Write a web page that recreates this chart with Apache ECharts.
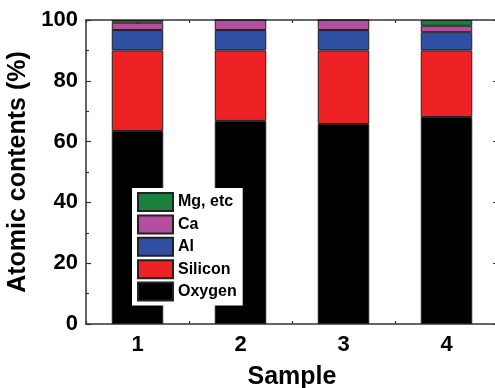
<!DOCTYPE html>
<html>
<head>
<meta charset="utf-8">
<script src="https://cdn.jsdelivr.net/npm/echarts@6/dist/echarts.min.js"></script>
<style>
  html, body { margin: 0; padding: 0; background: #fff; }
  #chart { width: 495px; height: 388px; }
</style>
</head>
<body>
<div id="chart"></div>
<script>
// sample names on the x axis
var samples = ["1", "2", "3", "4"];
// atomic contents (%) per element
var oxygen = [63.5, 66.8, 65.8, 68.1];
var silicon = [26.5, 23.2, 24.2, 21.9];
var al = [6.7, 6.7, 6.7, 6.0];
var ca = [2.4, 3.3, 3.3, 2.1];
var mg = [0.9, 0, 0, 1.9];

var names = ["Oxygen", "Silicon", "Al", "Ca", "Mg, etc"];
var colors = ["#000000", "#ee2224", "#2f4fa2", "#b44f9e", "#1b7f3e"];
var values = [oxygen, silicon, al, ca, mg];

var font = "Arial, 'Liberation Sans', sans-serif";

var chart = echarts.init(document.getElementById("chart"));

var series = [];
for (var i = 0; i < names.length; i++) {
  series.push({
    name: names[i],
    type: "bar",
    stack: "total",
    barWidth: "50%",
    data: values[i],
    itemStyle: { color: colors[i], borderColor: "#222", borderWidth: 1 }
  });
}

var tickStyle = { color: "#333", width: 1.2 };

chart.setOption({
  animation: false,
  grid: { left: 86, top: 20, bottom: 64, width: 412, outerBoundsMode: "none", containLabel: false },
  legend: {
    orient: "vertical",
    left: 132,
    top: 188,
    padding: [4, 6, 4, 5],
    itemGap: 2.4,
    itemWidth: 35,
    itemHeight: 18,
    icon: "rect",
    backgroundColor: "#fff",
    data: ["Mg, etc", "Ca", "Al", "Silicon", "Oxygen"],
    textStyle: { fontFamily: font, fontWeight: "bold", fontSize: 16, color: "#000" }
  },
  xAxis: [
    {
      type: "category",
      data: samples,
      position: "bottom",
      name: "Sample",
      nameLocation: "middle",
      nameGap: 41,
      nameTextStyle: { fontFamily: font, fontWeight: "bold", fontSize: 25, color: "#000" },
      axisLine: { lineStyle: { color: "#333", width: 1.5 } },
      axisTick: { show: true, inside: true, length: 3, lineStyle: tickStyle },
      axisLabel: { fontFamily: font, fontWeight: "bold", fontSize: 22, color: "#000", margin: 10 }
    },
    {
      type: "category",
      data: samples,
      position: "bottom",
      axisLine: { show: false },
      axisTick: { show: true, inside: true, alignWithLabel: true, length: 5, lineStyle: tickStyle },
      axisLabel: { show: false }
    },
    {
      type: "category",
      data: samples,
      position: "top",
      axisLine: { lineStyle: { color: "#333", width: 1.5 } },
      axisTick: { show: true, inside: true, length: 3, lineStyle: tickStyle },
      axisLabel: { show: false }
    },
    {
      type: "category",
      data: samples,
      position: "top",
      axisLine: { show: false },
      axisTick: { show: true, inside: true, alignWithLabel: true, length: 5, lineStyle: tickStyle },
      axisLabel: { show: false }
    }
  ],
  yAxis: [
    {
      type: "value",
      min: 0,
      max: 100,
      interval: 20,
      position: "left",
      name: "Atomic contents (%)",
      nameLocation: "middle",
      nameGap: 49,
      nameTextStyle: { fontFamily: font, fontWeight: "bold", fontSize: 25, color: "#000" },
      axisLine: { show: true, lineStyle: { color: "#333", width: 1.5 } },
      axisTick: { show: true, inside: true, length: 5, lineStyle: tickStyle },
      minorTick: { show: true, splitNumber: 2, length: 3, lineStyle: tickStyle },
      splitLine: { show: false },
      axisLabel: { fontFamily: font, fontWeight: "bold", fontSize: 22, color: "#000", margin: 8 }
    },
    {
      type: "value",
      min: 0,
      max: 100,
      interval: 20,
      position: "right",
      axisLine: { show: true, lineStyle: { color: "#333", width: 1.5 } },
      axisTick: { show: true, inside: true, length: 5, lineStyle: tickStyle },
      splitLine: { show: false },
      axisLabel: { show: false }
    }
  ],
  series: series
});
</script>
</body>
</html>
